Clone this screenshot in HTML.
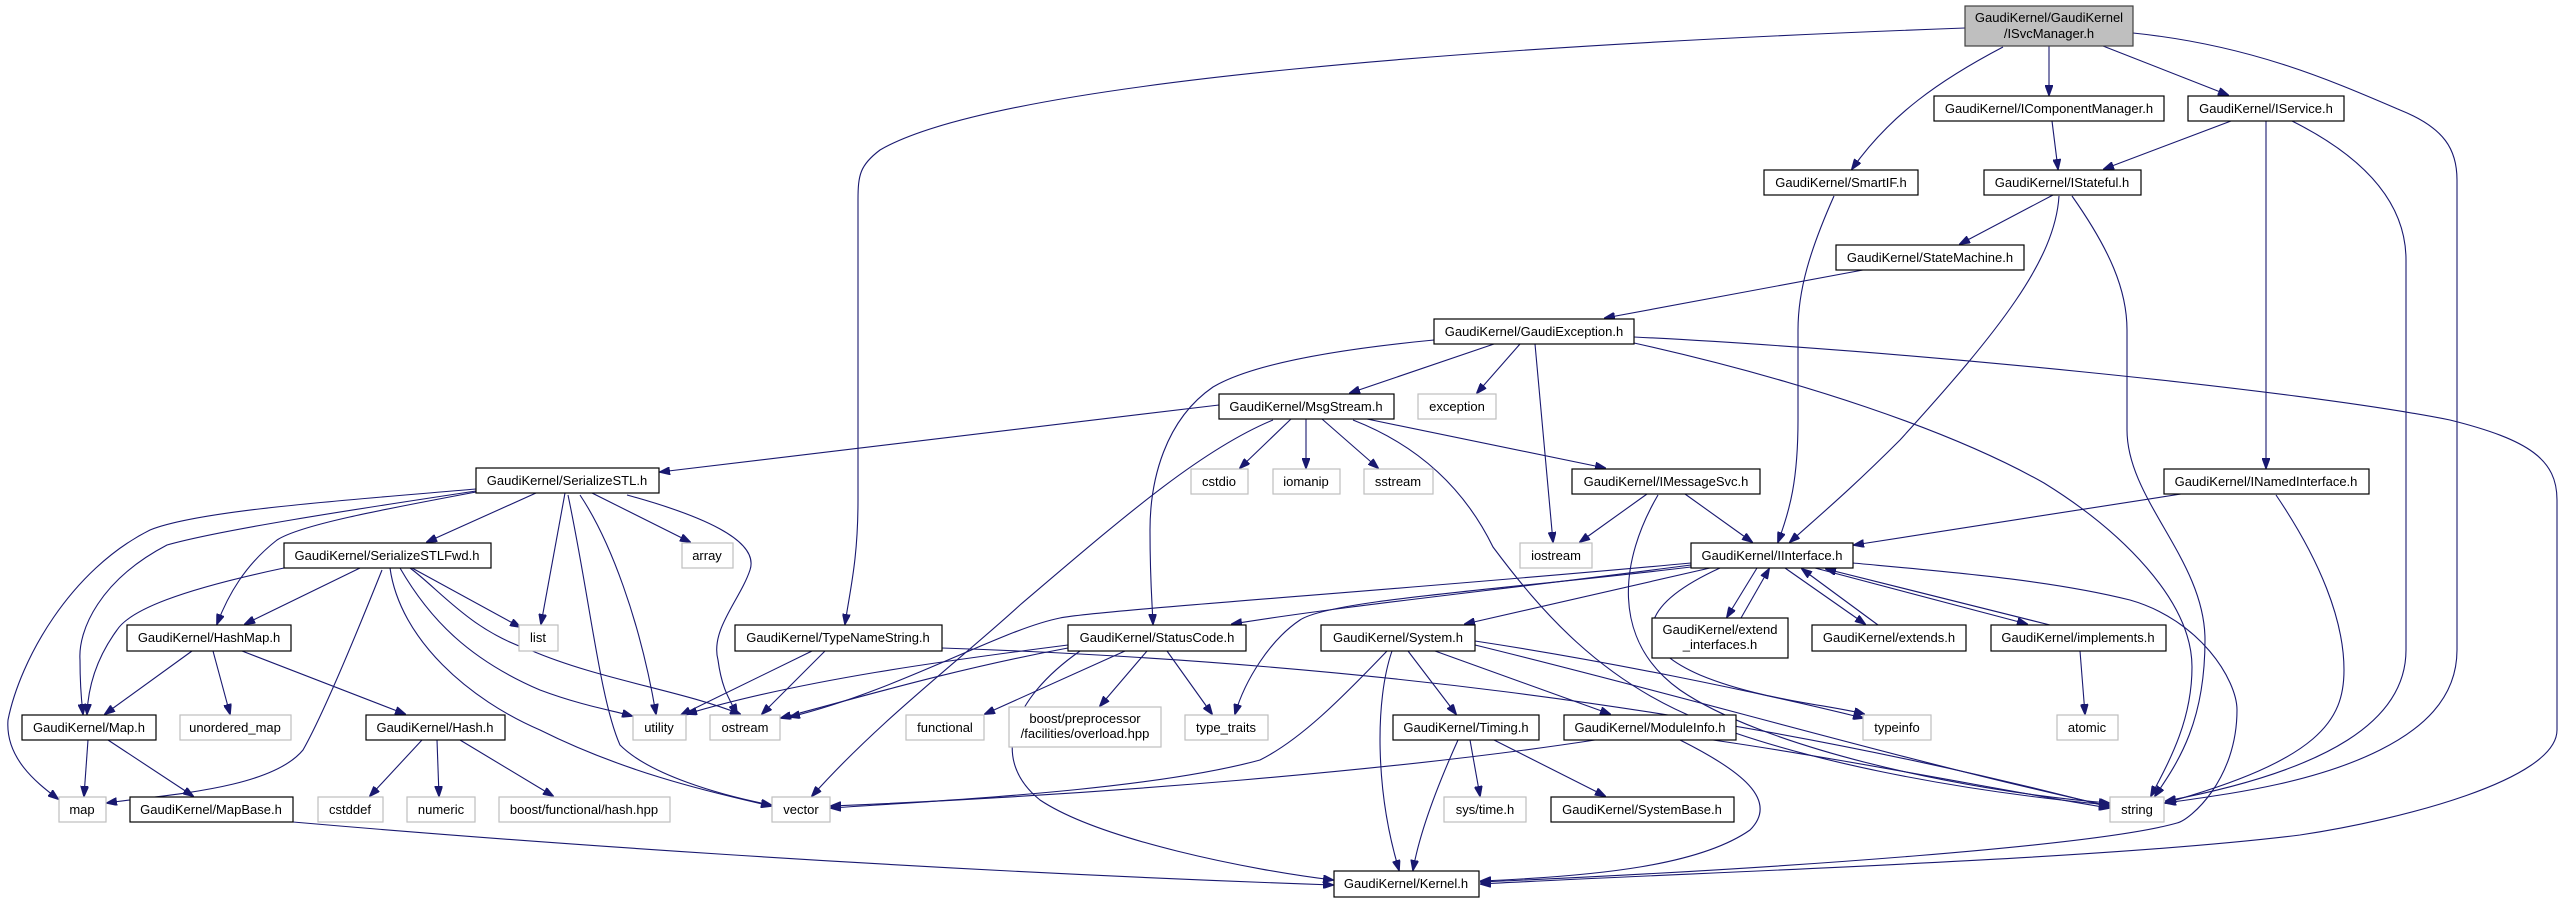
<!DOCTYPE html>
<html><head><meta charset="utf-8"><style>
html,body{margin:0;padding:0;background:#fff;}
svg{display:block;}
text{font-family:"Liberation Sans",Arial,sans-serif;font-size:13px;fill:#000;text-anchor:middle;}
.n{fill:#fff;stroke:#000;stroke-width:1.2;}
.g{fill:#fff;stroke:#bfbfbf;stroke-width:1.2;}
.r{fill:#bfbfbf;stroke:#404040;stroke-width:1.2;}
.e{fill:none;stroke:#191970;stroke-width:1.1;marker-end:url(#a);}
</style></head><body>
<svg width="2564" height="903" viewBox="0 0 2564 903" xmlns="http://www.w3.org/2000/svg">
<defs><marker id="a" markerUnits="userSpaceOnUse" markerWidth="11" markerHeight="8" refX="10" refY="4" orient="auto"><path d="M0,0 L11,4 L0,8 z" fill="#191970" stroke="#191970"/></marker></defs>
<g>
<!-- ISvcManager edges -->
<path class="e" d="M1965,28 C1500,45 1000,80 880,150 C860,165 858,175 858,200 L858,500 C858,560 850,590 845,624"/>
<path class="e" d="M2003,47 C1940,80 1890,115 1852,169"/>
<path class="e" d="M2049,46 L2049,95"/>
<path class="e" d="M2103,46 L2228,95"/>
<path class="e" d="M2133,33 C2250,45 2330,80 2400,110 C2445,128 2457,150 2457,180 L2457,650 C2457,700 2420,730 2380,750 C2310,785 2220,795 2166,803"/>
<path class="e" d="M2052,121 L2058,169"/>
<path class="e" d="M2231,121 L2104,169"/>
<path class="e" d="M2266,121 L2266,468"/>
<path class="e" d="M2292,121 C2360,155 2406,200 2406,260 L2406,650 C2406,720 2330,770 2166,801"/>
<path class="e" d="M2053,195 L1960,244"/>
<path class="e" d="M2059,196 C2055,260 2000,330 1900,440 C1850,490 1820,515 1790,542"/>
<path class="e" d="M2072,196 C2110,250 2127,290 2127,330 L2127,430 C2127,500 2205,560 2205,640 C2205,720 2180,760 2155,796"/>
<path class="e" d="M1863,270 L1605,318"/>
<!-- GaudiException -->
<path class="e" d="M1494,344 L1350,393"/>
<path class="e" d="M1520,344 L1477,393"/>
<path class="e" d="M1535,344 L1553,542"/>
<path class="e" d="M1434,340 C1330,350 1250,365 1213,387 C1165,420 1150,480 1150,530 C1150,580 1152,600 1153,624"/>
<path class="e" d="M1634,337 C1900,350 2300,390 2450,420 C2530,440 2557,460 2557,500 L2557,730 C2557,780 2400,820 2300,835 C2100,860 1700,872 1481,884"/>
<path class="e" d="M1634,343 C1800,380 1950,430 2044,483 C2120,530 2192,600 2192,667 C2192,720 2170,760 2151,796"/>
<!-- MsgStream -->
<path class="e" d="M1219,405 L660,472"/>
<path class="e" d="M1291,419 L1240,468"/>
<path class="e" d="M1306,419 L1306,468"/>
<path class="e" d="M1322,419 L1378,468"/>
<path class="e" d="M1367,419 L1605,468"/>
<path class="e" d="M1273,420 C1200,450 1120,520 1020,605 C960,660 880,720 812,796"/>
<path class="e" d="M1353,420 C1430,450 1470,500 1493,547 C1540,610 1600,680 1700,720 C1800,760 1950,790 2109,805"/>
<!-- IMessageSvc -->
<path class="e" d="M1647,494 L1580,542"/>
<path class="e" d="M1685,494 L1752,542"/>
<path class="e" d="M1658,495 C1620,560 1610,640 1680,690 C1760,745 1950,790 2109,803"/>
<!-- SmartIF, INamedInterface -->
<path class="e" d="M1834,196 C1810,250 1798,290 1798,330 L1798,420 C1798,480 1790,510 1778,542"/>
<path class="e" d="M2181,494 L1854,545"/>
<path class="e" d="M2276,495 C2320,560 2344,620 2344,670 C2344,720 2320,760 2165,803"/>
<!-- IInterface -->
<path class="e" d="M1757,568 L1727,617"/>
<path class="e" d="M1741,618 L1769,569"/>
<path class="e" d="M1785,568 L1865,624"/>
<path class="e" d="M1878,625 L1802,569"/>
<path class="e" d="M1815,568 L2027,624"/>
<path class="e" d="M2050,625 L1826,569"/>
<path class="e" d="M1691,565 C1500,590 1350,605 1232,624"/>
<path class="e" d="M1710,568 L1465,624"/>
<path class="e" d="M1691,567 C1500,590 1330,600 1300,620 C1270,640 1245,680 1235,714"/>
<path class="e" d="M1691,563 C1400,590 1100,610 1060,618 C1000,630 900,690 790,717"/>
<path class="e" d="M1720,568 C1650,600 1620,640 1700,675 C1760,700 1830,705 1864,714"/>
<path class="e" d="M1853,563 C1950,572 2050,580 2130,600 C2200,620 2237,680 2237,710 C2237,780 2190,820 2177,823 C2100,845 1800,868 1481,882"/>
<!-- StatusCode -->
<path class="e" d="M1147,651 L1100,706"/>
<path class="e" d="M1167,651 L1212,714"/>
<path class="e" d="M1125,651 L985,714"/>
<path class="e" d="M1068,645 C950,660 800,680 687,714"/>
<path class="e" d="M1068,648 C950,670 850,700 781,718"/>
<path class="e" d="M1080,651 C1010,700 990,760 1040,800 C1100,840 1250,870 1333,880"/>
<!-- System -->
<path class="e" d="M1408,651 L1456,714"/>
<path class="e" d="M1435,651 L1610,714"/>
<path class="e" d="M1392,651 C1375,700 1375,790 1399,870"/>
<path class="e" d="M1387,651 C1340,700 1300,740 1260,760 C1150,790 950,800 831,808"/>
<path class="e" d="M1475,641 C1600,660 1750,690 1863,718"/>
<path class="e" d="M1475,645 C1700,700 1900,760 2109,806"/>
<!-- Timing / ModuleInfo / implements -->
<path class="e" d="M1470,740 L1480,796"/>
<path class="e" d="M1494,740 L1605,796"/>
<path class="e" d="M1458,740 C1440,780 1420,830 1413,870"/>
<path class="e" d="M1595,740 C1400,770 1100,795 831,806"/>
<path class="e" d="M1713,740 C1850,760 2000,790 2109,808"/>
<path class="e" d="M1680,740 C1740,770 1780,800 1750,830 C1700,865 1600,876 1481,881"/>
<path class="e" d="M2080,651 L2085,714"/>
<!-- TypeNameString -->
<path class="e" d="M812,651 L681,715"/>
<path class="e" d="M825,651 L762,714"/>
<path class="e" d="M942,648 C1300,660 1700,700 2109,807"/>
<!-- SerializeSTL -->
<path class="e" d="M536,493 L427,542"/>
<path class="e" d="M476,492 C380,510 300,525 277,540 C245,565 228,595 217,624"/>
<path class="e" d="M476,491 C350,510 220,530 167,545 C100,580 78,630 80,660 C80,690 82,705 83,714"/>
<path class="e" d="M476,489 C350,500 200,510 150,530 C70,570 20,660 8,720 C5,760 40,785 58,799"/>
<path class="e" d="M565,493 L541,624"/>
<path class="e" d="M580,495 C610,540 640,620 656,714"/>
<path class="e" d="M568,495 C590,600 600,700 620,745 C650,775 720,795 771,805"/>
<path class="e" d="M592,493 L690,542"/>
<path class="e" d="M627,495 C700,515 760,540 750,570 C740,600 710,630 718,660 C722,690 730,700 737,714"/>
<!-- SerializeSTLFwd -->
<path class="e" d="M360,568 L245,624"/>
<path class="e" d="M284,568 C180,590 130,610 117,630 C95,660 88,690 87,714"/>
<path class="e" d="M382,570 C350,650 320,720 303,750 C270,790 160,795 107,803"/>
<path class="e" d="M412,568 L520,627"/>
<path class="e" d="M410,568 C440,590 470,630 530,650 C600,680 680,690 740,714"/>
<path class="e" d="M400,568 C430,620 470,660 540,690 C580,705 610,710 632,716"/>
<path class="e" d="M390,568 C400,640 470,700 540,730 C620,770 700,790 771,806"/>
<!-- HashMap, Map, Hash, MapBase -->
<path class="e" d="M192,651 L105,714"/>
<path class="e" d="M213,651 L230,714"/>
<path class="e" d="M242,651 L405,714"/>
<path class="e" d="M88,740 L84,796"/>
<path class="e" d="M108,740 L193,796"/>
<path class="e" d="M422,740 L370,796"/>
<path class="e" d="M437,740 L439,796"/>
<path class="e" d="M460,740 L553,796"/>
<path class="e" d="M293,822 C500,840 900,870 1333,885"/>
</g>
<g>
<rect class="r" x="1965" y="6" width="168" height="40"/><text x="2049" y="22">GaudiKernel/GaudiKernel</text><text x="2049" y="38">/ISvcManager.h</text>
<rect class="n" x="1934" y="96" width="230" height="25"/><text x="2049" y="113">GaudiKernel/IComponentManager.h</text>
<rect class="n" x="2188" y="96" width="156" height="25"/><text x="2266" y="113">GaudiKernel/IService.h</text>
<rect class="n" x="1764" y="170" width="154" height="25"/><text x="1841" y="187">GaudiKernel/SmartIF.h</text>
<rect class="n" x="1984" y="170" width="157" height="25"/><text x="2062" y="187">GaudiKernel/IStateful.h</text>
<rect class="n" x="1836" y="245" width="188" height="25"/><text x="1930" y="262">GaudiKernel/StateMachine.h</text>
<rect class="n" x="1434" y="319" width="200" height="25"/><text x="1534" y="336">GaudiKernel/GaudiException.h</text>
<rect class="n" x="1219" y="394" width="175" height="25"/><text x="1306" y="411">GaudiKernel/MsgStream.h</text>
<rect class="g" x="1418" y="394" width="78" height="25"/><text x="1457" y="411">exception</text>
<rect class="g" x="1191" y="469" width="57" height="25"/><text x="1219" y="486">cstdio</text>
<rect class="g" x="1273" y="469" width="67" height="25"/><text x="1306" y="486">iomanip</text>
<rect class="g" x="1364" y="469" width="69" height="25"/><text x="1398" y="486">sstream</text>
<rect class="n" x="1572" y="469" width="188" height="25"/><text x="1666" y="486">GaudiKernel/IMessageSvc.h</text>
<rect class="n" x="2164" y="469" width="205" height="25"/><text x="2266" y="486">GaudiKernel/INamedInterface.h</text>
<rect class="n" x="476" y="468" width="183" height="25"/><text x="567" y="485">GaudiKernel/SerializeSTL.h</text>
<rect class="n" x="284" y="543" width="207" height="25"/><text x="387" y="560">GaudiKernel/SerializeSTLFwd.h</text>
<rect class="g" x="682" y="543" width="51" height="25"/><text x="707" y="560">array</text>
<rect class="g" x="1520" y="543" width="72" height="25"/><text x="1556" y="560">iostream</text>
<rect class="n" x="1691" y="543" width="162" height="25"/><text x="1772" y="560">GaudiKernel/IInterface.h</text>
<rect class="n" x="127" y="625" width="164" height="26"/><text x="209" y="642">GaudiKernel/HashMap.h</text>
<rect class="g" x="519" y="625" width="39" height="26"/><text x="538" y="642">list</text>
<rect class="n" x="735" y="625" width="207" height="26"/><text x="838" y="642">GaudiKernel/TypeNameString.h</text>
<rect class="n" x="1068" y="625" width="178" height="26"/><text x="1157" y="642">GaudiKernel/StatusCode.h</text>
<rect class="n" x="1321" y="625" width="154" height="26"/><text x="1398" y="642">GaudiKernel/System.h</text>
<rect class="n" x="1652" y="618" width="136" height="40"/><text x="1720" y="634">GaudiKernel/extend</text><text x="1720" y="649">_interfaces.h</text>
<rect class="n" x="1812" y="625" width="154" height="26"/><text x="1889" y="642">GaudiKernel/extends.h</text>
<rect class="n" x="1991" y="625" width="175" height="26"/><text x="2078" y="642">GaudiKernel/implements.h</text>
<rect class="n" x="22" y="715" width="134" height="25"/><text x="89" y="732">GaudiKernel/Map.h</text>
<rect class="g" x="180" y="715" width="111" height="25"/><text x="235" y="732">unordered_map</text>
<rect class="n" x="366" y="715" width="139" height="25"/><text x="435" y="732">GaudiKernel/Hash.h</text>
<rect class="g" x="633" y="715" width="53" height="25"/><text x="659" y="732">utility</text>
<rect class="g" x="710" y="715" width="70" height="25"/><text x="745" y="732">ostream</text>
<rect class="g" x="906" y="715" width="78" height="25"/><text x="945" y="732">functional</text>
<rect class="g" x="1009" y="707" width="152" height="40"/><text x="1085" y="723">boost/preprocessor</text><text x="1085" y="738">/facilities/overload.hpp</text>
<rect class="g" x="1185" y="715" width="83" height="25"/><text x="1226" y="732">type_traits</text>
<rect class="n" x="1393" y="715" width="146" height="25"/><text x="1466" y="732">GaudiKernel/Timing.h</text>
<rect class="n" x="1564" y="715" width="172" height="25"/><text x="1650" y="732">GaudiKernel/ModuleInfo.h</text>
<rect class="g" x="1863" y="715" width="68" height="25"/><text x="1897" y="732">typeinfo</text>
<rect class="g" x="2057" y="715" width="61" height="25"/><text x="2087" y="732">atomic</text>
<rect class="g" x="59" y="797" width="47" height="25"/><text x="82" y="814">map</text>
<rect class="n" x="130" y="797" width="163" height="25"/><text x="211" y="814">GaudiKernel/MapBase.h</text>
<rect class="g" x="318" y="797" width="65" height="25"/><text x="350" y="814">cstddef</text>
<rect class="g" x="407" y="797" width="68" height="25"/><text x="441" y="814">numeric</text>
<rect class="g" x="499" y="797" width="171" height="25"/><text x="584" y="814">boost/functional/hash.hpp</text>
<rect class="g" x="772" y="797" width="58" height="25"/><text x="801" y="814">vector</text>
<rect class="g" x="1444" y="797" width="82" height="25"/><text x="1485" y="814">sys/time.h</text>
<rect class="n" x="1551" y="797" width="183" height="25"/><text x="1642" y="814">GaudiKernel/SystemBase.h</text>
<rect class="g" x="2110" y="797" width="54" height="25"/><text x="2137" y="814">string</text>
<rect class="n" x="1334" y="871" width="145" height="26"/><text x="1406" y="888">GaudiKernel/Kernel.h</text>
</g>
</svg>
</body></html>
